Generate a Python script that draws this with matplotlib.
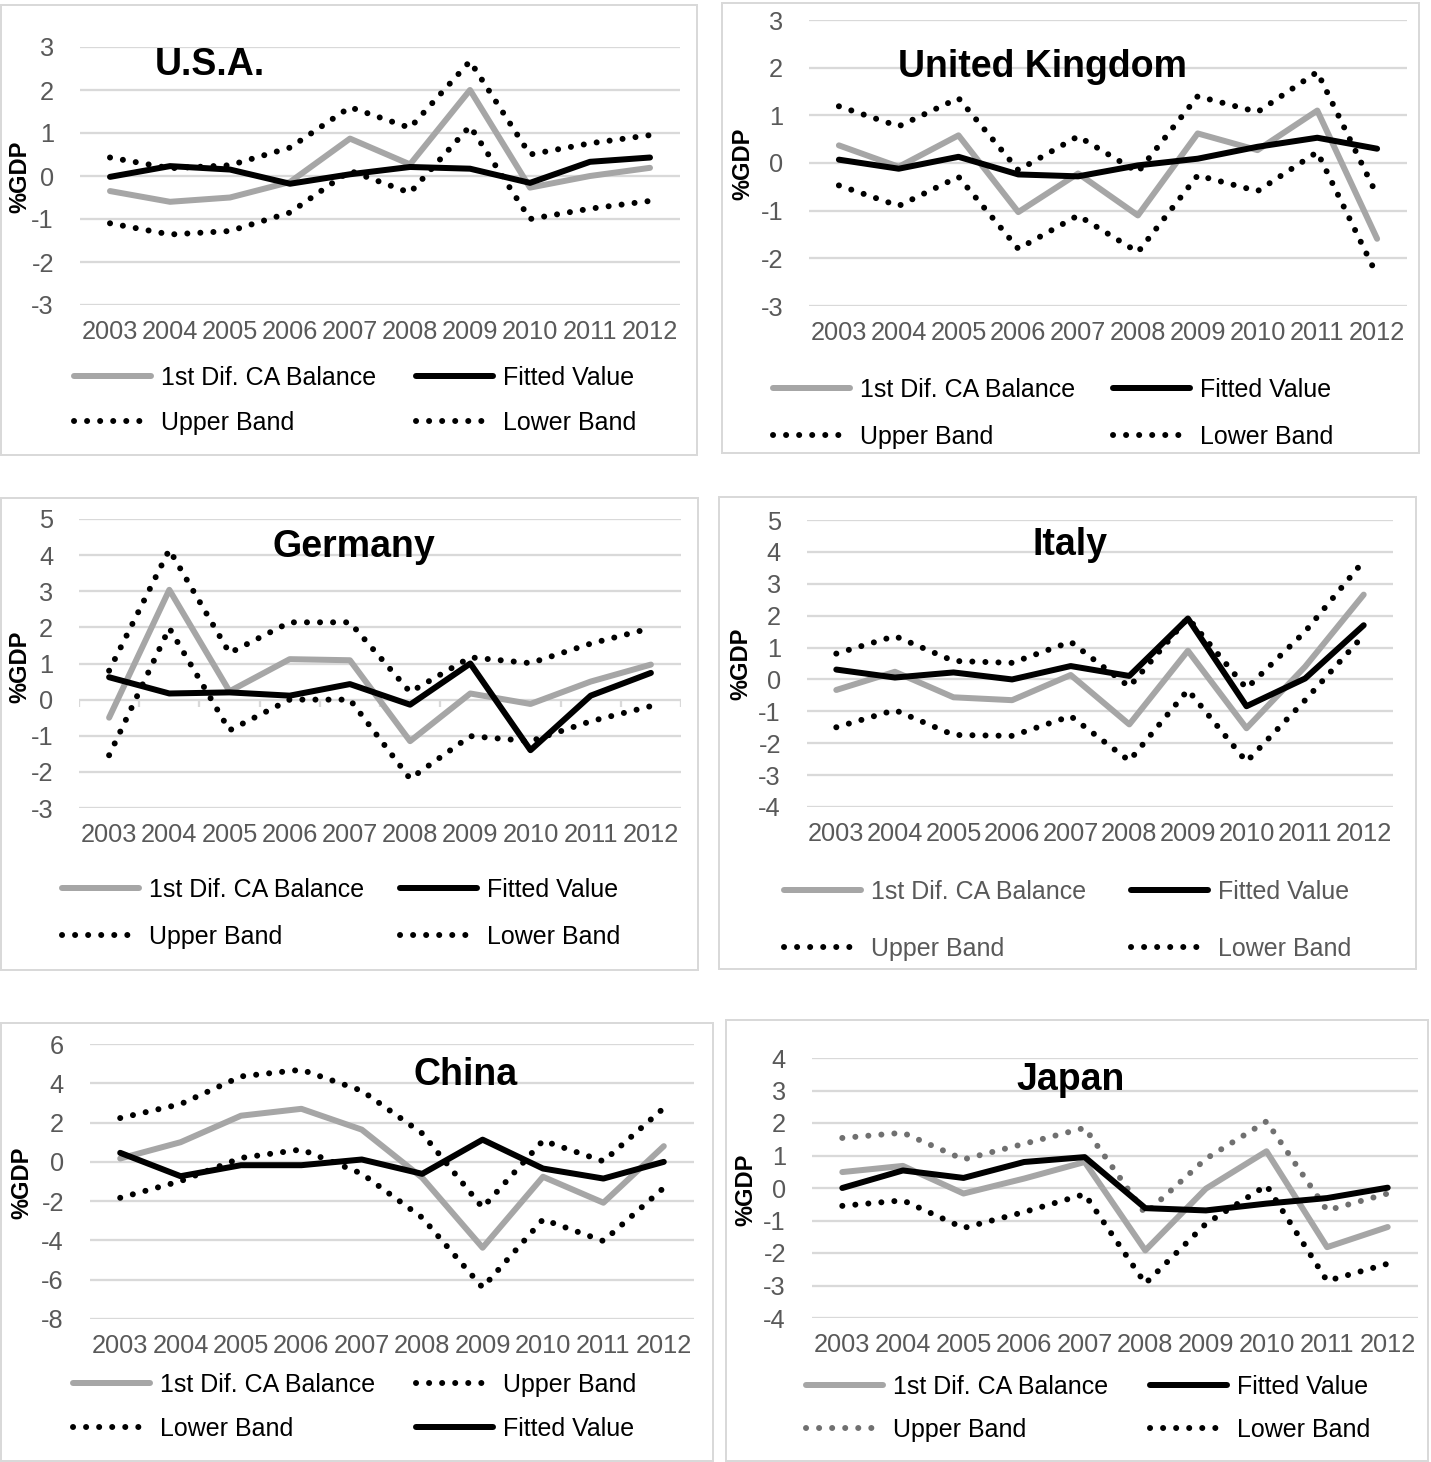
import numpy as np
import matplotlib
matplotlib.use("Agg")
import matplotlib.pyplot as plt
from matplotlib.patches import Rectangle

plt.rcParams['font.family'] = ['Liberation Sans', 'DejaVu Sans']
plt.rcParams['axes.unicode_minus'] = False

years = ['2003', '2004', '2005', '2006', '2007', '2008', '2009', '2010', '2011', '2012']

usa_ca  = [-0.35, -0.60, -0.50, -0.14, 0.87, 0.27, 2.00, -0.27, 0.00, 0.19]
usa_fit = [-0.02, 0.23, 0.15, -0.18, 0.04, 0.21, 0.17, -0.16, 0.33, 0.43]
usa_up  = [0.43, 0.18, 0.25, 0.66, 1.60, 1.12, 2.67, 0.50, 0.76, 0.95]
usa_lo  = [-1.10, -1.36, -1.28, -0.85, 0.12, -0.39, 1.16, -1.00, -0.76, -0.58]

uk_ca  = [0.37, -0.08, 0.58, -1.03, -0.22, -1.10, 0.62, 0.27, 1.10, -1.59]
uk_fit = [0.07, -0.12, 0.13, -0.24, -0.28, -0.05, 0.09, 0.34, 0.53, 0.30]
uk_up  = [1.19, 0.77, 1.36, -0.15, 0.56, -0.19, 1.40, 1.07, 1.91, -0.68]
uk_lo  = [-0.47, -0.90, -0.29, -1.80, -1.10, -1.87, -0.26, -0.59, 0.23, -2.36]

de_ca  = [-0.50, 3.04, 0.23, 1.12, 1.09, -1.15, 0.17, -0.12, 0.50, 0.97]
de_fit = [0.62, 0.17, 0.20, 0.11, 0.43, -0.14, 1.00, -1.40, 0.11, 0.74]
de_up  = [0.80, 4.15, 1.29, 2.14, 2.14, 0.21, 1.17, 1.01, 1.55, 1.98]
de_lo  = [-1.54, 1.98, -0.85, 0.00, 0.00, -2.19, -1.01, -1.15, -0.60, -0.18]

it_ca  = [-0.33, 0.24, -0.56, -0.65, 0.14, -1.41, 0.90, -1.53, 0.40, 2.66]
it_fit = [0.31, 0.06, 0.22, 0.00, 0.42, 0.11, 1.91, -0.84, 0.03, 1.70]
it_up  = [0.81, 1.36, 0.58, 0.52, 1.18, -0.23, 1.93, -0.28, 1.50, 3.72]
it_lo  = [-1.50, -0.96, -1.74, -1.77, -1.15, -2.55, -0.33, -2.58, -0.65, 1.39]

cn_ca  = [0.17, 1.00, 2.35, 2.70, 1.64, -0.81, -4.37, -0.76, -2.08, 0.80]
cn_fit = [0.46, -0.73, -0.17, -0.17, 0.12, -0.61, 1.13, -0.34, -0.85, 0.00]
cn_up  = [2.23, 2.94, 4.35, 4.69, 3.62, 1.45, -2.33, 1.08, 0.03, 2.74]
cn_lo  = [-1.83, -0.98, 0.20, 0.63, -0.60, -2.84, -6.40, -2.93, -4.03, -1.32]

jp_ca  = [0.49, 0.68, -0.17, 0.29, 0.80, -1.92, -0.02, 1.13, -1.82, -1.20]
jp_fit = [0.00, 0.54, 0.31, 0.80, 0.95, -0.62, -0.69, -0.48, -0.31, 0.01]
jp_up  = [1.54, 1.70, 0.88, 1.36, 1.85, -0.79, 0.90, 2.05, -0.69, -0.17]
jp_lo  = [-0.55, -0.38, -1.23, -0.74, -0.19, -2.94, -1.10, 0.08, -2.86, -2.33]

W, H = 1431, 1462
DPI = 100
fig = plt.figure(figsize=(W / DPI, H / DPI), dpi=DPI)

GRID = '#d9d9d9'
TICK = '#595959'
GRAY = '#a6a6a6'
FS = 18.3
LFS = 18.0
PX = 72.0 / DPI  # points per pixel

L_CA = '1st Dif. CA Balance'
L_FIT = 'Fitted Value'
L_UP = 'Upper Band'
L_LO = 'Lower Band'

panels = [
    dict(name='U.S.A.', data=(usa_ca, usa_fit, usa_up, usa_lo), box=(1, 5, 697, 455),
         area=(80, 47, 680, 305), ylim=(-3, 3), step=1, title=(210, 75), ylab=(20, 177),
         leg=(74, 416, 376, 421), order='std', legc='black', upc='black', axis0=False),
    dict(name='United Kingdom', data=(uk_ca, uk_fit, uk_up, uk_lo), box=(722, 3, 1419, 453),
         area=(809, 20, 1407, 306), ylim=(-3, 3), step=1, title=(1043, 77), ylab=(743, 164),
         leg=(773, 1113, 388, 435), order='std', legc='black', upc='black', axis0=False),
    dict(name='Germany', data=(de_ca, de_fit, de_up, de_lo), box=(1, 498, 698, 970),
         area=(79, 519, 681, 808), ylim=(-3, 5), step=1, title=(354, 557), ylab=(20, 667),
         leg=(62, 400, 888, 935), order='std', legc='black', upc='black', axis0=True),
    dict(name='Italy', data=(it_ca, it_fit, it_up, it_lo), box=(719, 497, 1416, 969),
         area=(807, 520, 1393, 807), ylim=(-4, 5), step=1, title=(1070, 555), ylab=(741, 664),
         leg=(784, 1131, 890, 947), order='std', legc=TICK, upc='black', axis0=False),
    dict(name='China', data=(cn_ca, cn_fit, cn_up, cn_lo), box=(1, 1023, 713, 1461),
         area=(90, 1044, 694, 1319), ylim=(-8, 6), step=2, title=(466, 1085), ylab=(22, 1183),
         leg=(73, 416, 1383, 1427), order='china', legc='black', upc='black', axis0=False),
    dict(name='Japan', data=(jp_ca, jp_fit, jp_up, jp_lo), box=(726, 1020, 1428, 1461),
         area=(812, 1058, 1418, 1318), ylim=(-4, 4), step=1, title=(1071, 1090), ylab=(746, 1190),
         leg=(806, 1150, 1385, 1428), order='std', legc='black', upc='#707070', axis0=False),
]

lw_line = 6 * PX
lw_dot = 6.0 * PX
dot_style = (0, (0.01, 13.0 / 6.0))

for p in panels:
    bx0, by0, bx1, by1 = p['box']
    fig.patches.append(Rectangle((bx0 / W, 1 - by1 / H), (bx1 - bx0) / W, (by1 - by0) / H,
                                 transform=fig.transFigure, fill=False, edgecolor=GRID,
                                 linewidth=2 * PX, zorder=0))
    x0, yt, x1, yb = p['area']
    ax = fig.add_axes([x0 / W, 1 - yb / H, (x1 - x0) / W, (yb - yt) / H])
    ax.set_facecolor('none')
    for s in ax.spines.values():
        s.set_visible(False)
    ymin, ymax = p['ylim']
    ax.set_xlim(-0.5, len(years) - 0.5)
    ax.set_ylim(ymin, ymax)
    ticks = np.arange(ymin, ymax + 0.001, p['step'])
    ax.set_yticks(ticks)
    ax.set_yticklabels([str(int(t)) for t in ticks])
    ax.set_xticks(np.arange(len(years)))
    ax.set_xticklabels(years)
    ax.tick_params(axis='y', length=0, pad=26 * PX, labelsize=FS, labelcolor=TICK)
    ax.tick_params(axis='x', length=0, pad=10.5, labelsize=FS, labelcolor=TICK)
    ax.grid(axis='y', color=GRID, linewidth=2.3 * PX, zorder=0)
    ax.set_axisbelow(True)
    if p['axis0']:
        bounds = np.arange(-0.5, len(years))
        ppu = (yb - yt) / (ymax - ymin)
        ax.vlines(bounds, -7 / ppu, 0, colors=GRID, linewidth=2.3 * PX, zorder=1)

    ca, fit, up, lo = p['data']
    x = np.arange(len(years))
    h_ca, = ax.plot(x, ca, color=GRAY, lw=lw_line, solid_capstyle='round',
                    solid_joinstyle='round', zorder=3, label=L_CA)
    h_up, = ax.plot(x, up, color=p['upc'], lw=lw_dot, linestyle=dot_style,
                    dash_capstyle='round', zorder=4, label=L_UP)
    h_lo, = ax.plot(x, lo, color='black', lw=lw_dot, linestyle=dot_style,
                    dash_capstyle='round', zorder=4, label=L_LO)
    h_fit, = ax.plot(x, fit, color='black', lw=lw_line, solid_capstyle='round',
                     solid_joinstyle='round', zorder=5, label=L_FIT)

    fig.text(p['title'][0] / W, 1 - p['title'][1] / H, p['name'], fontsize=27,
             fontweight='bold', ha='center', va='baseline', color='black')
    fig.text(p['ylab'][0] / W, 1 - p['ylab'][1] / H, '%GDP', fontsize=17,
             fontweight='bold', ha='center', va='center', rotation=90, color='black')

    if p['order'] == 'china':
        col1 = [h_ca, h_lo]
        col2 = [h_up, h_fit]
    else:
        col1 = [h_ca, h_up]
        col2 = [h_fit, h_lo]
    lx1, lx2, r1, r2 = p['leg']
    fs_px = LFS / PX
    ls = (r2 - r1) / fs_px - 0.95
    for cx, hs in ((lx1, col1), (lx2, col2)):
        lg = fig.legend(hs, [h.get_label() for h in hs], loc='center left',
                        bbox_to_anchor=(cx / W, 1 - ((r1 + r2) / 2 + 2) / H),
                        frameon=False, borderpad=0, borderaxespad=0,
                        handlelength=77 / fs_px, handletextpad=10 / fs_px,
                        labelspacing=ls, fontsize=LFS)
        for t in lg.get_texts():
            t.set_color(p['legc'])

fig.savefig('out.png', dpi=DPI, facecolor='white')
